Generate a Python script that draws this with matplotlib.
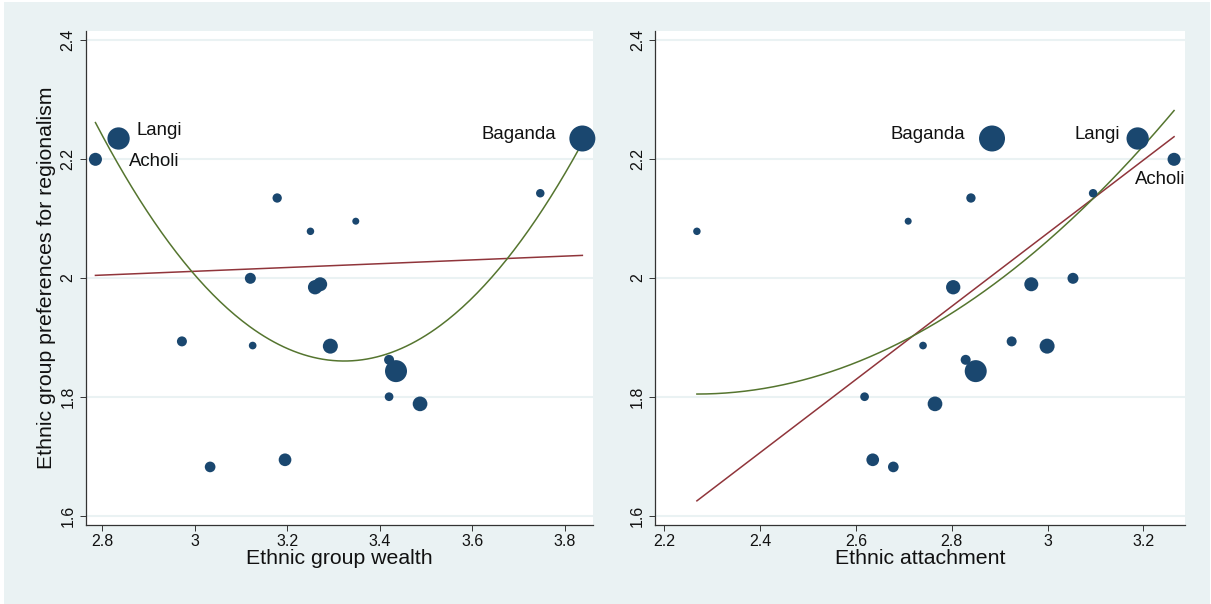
#!/usr/bin/env python3
# -*- coding: utf-8 -*-
"""
Ethnic group preferences for regionalism vs. group wealth and ethnic attachment.
Marker area is weighted by group size; linear and quadratic fits overlaid.
"""

import numpy as np
import matplotlib
matplotlib.use("Agg")
import matplotlib.pyplot as plt
from matplotlib.patches import Rectangle

plt.rcParams['font.family'] = ['Liberation Sans', 'DejaVu Sans']

# --- group-level data -------------------------------------------------------
group_names = ['Acholi', 'Langi', 'Baganda'] + [''] * 16

group_wealth = [2.785, 2.835, 3.838, 3.747, 3.178, 3.348, 3.250, 3.120,
                3.260, 3.271, 2.972, 3.125, 3.293, 3.420, 3.435, 3.420,
                3.487, 3.033, 3.195]

ethnic_attachment = [3.264, 3.188, 2.884, 3.095, 2.840, 2.709, 2.268, 3.053,
                     2.803, 2.966, 2.925, 2.740, 2.999, 2.829, 2.850, 2.618,
                     2.765, 2.678, 2.635]

regionalism_pref = [2.199, 2.234, 2.234, 2.142, 2.134, 2.095, 2.078, 1.999,
                    1.984, 1.989, 1.893, 1.886, 1.885, 1.862, 1.843, 1.800,
                    1.788, 1.682, 1.694]

# relative group size (drives marker area)
group_weight = [1.70, 4.97, 6.76, 0.72, 0.87, 0.49, 0.56, 1.21,
                2.05, 1.96, 1.00, 0.59, 2.25, 1.00, 4.84, 0.76,
                2.16, 1.14, 1.61]

# fitted curves: linear (slope, intercept), quadratic (curvature, vertex x, vertex y)
wealth_linear = (0.0319, 1.9151)
wealth_quad = (1.384, 3.3231, 1.860)
attach_linear = (0.6145, 0.2313)
attach_quad = (0.4803, 2.268, 1.8045)

x_ticks_wealth = [2.8, 3.0, 3.2, 3.4, 3.6, 3.8]
x_tick_labels_wealth = ['2.8', '3', '3.2', '3.4', '3.6', '3.8']
x_ticks_attach = [2.2, 2.4, 2.6, 2.8, 3.0, 3.2]
x_tick_labels_attach = ['2.2', '2.4', '2.6', '2.8', '3', '3.2']
y_ticks = [1.6, 1.8, 2.0, 2.2, 2.4]
y_tick_labels = ['1.6', '1.8', '2', '2.2', '2.4']

# label placement per named group (offset in pixels, alignment)
label_pos_wealth = {
    'Acholi': ((34, -2), 'left'),
    'Langi': ((18, 8), 'left'),
    'Baganda': ((-26, 4), 'right'),
}
label_pos_attach = {
    'Acholi': ((-14, -20), 'center'),
    'Langi': ((-18, 4), 'right'),
    'Baganda': ((-27, 4), 'right'),
}

# Stata s2color palette
BG = '#EAF2F3'
NAVY = '#1A476F'
MAROON = '#90353B'
FOREST = '#55752F'
AXIS = '#333333'
TEXT = '#111111'


def draw_panel(ax, x, y, lin, quad, xticks, xticklabels, xlim, xlabel, labels):
    """Scatter with weighted markers plus linear and quadratic fits."""
    ax.set_facecolor('white')
    sizes = np.array(group_weight) * 51.84
    ax.scatter(x, y, s=sizes, color=NAVY, linewidths=0, zorder=3, clip_on=False)

    xs = np.linspace(min(x), max(x), 200)
    ax.plot(xs, lin[0] * xs + lin[1], color=MAROON, lw=1.1, zorder=2)
    ax.plot(xs, quad[0] * (xs - quad[1]) ** 2 + quad[2], color=FOREST, lw=1.1, zorder=2)

    for name, xi, yi in zip(group_names, x, y):
        if name in labels:
            off, ha = labels[name]
            ax.annotate(name, (xi, yi), xytext=(off[0], off[1]),
                        textcoords='offset pixels', ha=ha, va='center',
                        fontsize=13.4, color=TEXT, zorder=4)

    ax.set_xlim(*xlim)
    ax.set_ylim(1.5844, 2.415)
    ax.set_xticks(xticks)
    ax.set_xticklabels(xticklabels)
    ax.set_yticks(y_ticks)
    ax.set_yticklabels(y_tick_labels)
    for lab in ax.get_yticklabels():
        lab.set_rotation(90)
        lab.set_va('center')

    ax.grid(axis='y', color=BG, lw=1.5, zorder=0)
    ax.set_axisbelow(True)
    for side in ('top', 'right'):
        ax.spines[side].set_visible(False)
    for side in ('left', 'bottom'):
        ax.spines[side].set_color(AXIS)
        ax.spines[side].set_linewidth(0.9)
    ax.tick_params(axis='both', length=4.3, width=0.7, color=AXIS,
                   labelsize=11.5, labelcolor=TEXT)
    ax.tick_params(axis='x', pad=2.5)
    ax.tick_params(axis='y', pad=3.0)
    ax.set_xlabel(xlabel, fontsize=15.3, labelpad=0.0, color=TEXT)


def main():
    fig = plt.figure(figsize=(12.11, 6.04), dpi=100, facecolor='white')
    # graph region, inset slightly from the image edge
    fig.patches.append(Rectangle((4 / 1211, 0), 1206 / 1211, 1 - 2 / 604,
                                 transform=fig.transFigure, facecolor=BG,
                                 edgecolor='none', zorder=-10))

    ax1 = fig.add_axes([0.0708, 0.1308, 0.4191, 0.8182])
    draw_panel(ax1, group_wealth, regionalism_pref, wealth_linear, wealth_quad,
               x_ticks_wealth, x_tick_labels_wealth, (2.764, 3.8616),
               'Ethnic group wealth', label_pos_wealth)
    ax1.set_ylabel('Ethnic group preferences for regionalism', fontsize=15.3,
                   labelpad=3, color=TEXT)

    ax2 = fig.add_axes([0.5409, 0.1308, 0.4377, 0.8182])
    draw_panel(ax2, ethnic_attachment, regionalism_pref, attach_linear, attach_quad,
               x_ticks_attach, x_tick_labels_attach, (2.1806, 3.287),
               'Ethnic attachment', label_pos_attach)

    fig.savefig('out.png', dpi=100, facecolor=fig.get_facecolor())


if __name__ == '__main__':
    main()
